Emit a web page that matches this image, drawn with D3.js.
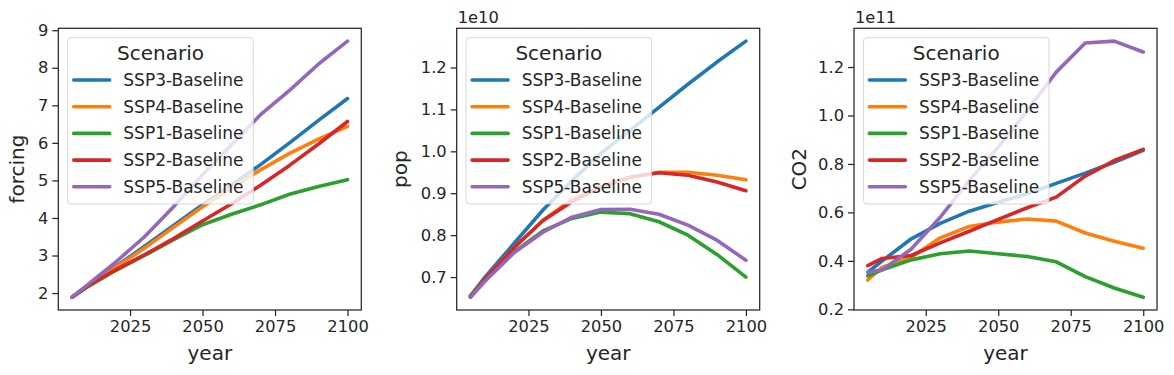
<!DOCTYPE html>
<html>
<head>
<meta charset="utf-8">
<script src="https://cdn.jsdelivr.net/npm/d3@7"></script>
<style>
  body { margin: 0; background: #fff; }
  text { font-family: "DejaVu Sans", sans-serif; fill: #262626; }
</style>
</head>
<body>
<div id="chart"></div>
<script>
// years of the model runs
const years = [2005, 2010, 2020, 2030, 2040, 2050, 2060, 2070, 2080, 2090, 2100];
const scenarios = ["SSP3-Baseline", "SSP4-Baseline", "SSP1-Baseline", "SSP2-Baseline", "SSP5-Baseline"];
const colors = ["#1f77b4", "#ff7f0e", "#2ca02c", "#d62728", "#9467bd"];

// forcing (W/m2), one array per scenario, same order as scenarios
const forcingSSP3 = [1.89, 2.18, 2.70, 3.25, 3.80, 4.35, 4.88, 5.42, 6.00, 6.60, 7.18];
const forcingSSP4 = [1.89, 2.18, 2.68, 3.20, 3.75, 4.30, 4.80, 5.28, 5.72, 6.10, 6.44];
const forcingSSP1 = [1.89, 2.15, 2.60, 3.00, 3.42, 3.82, 4.10, 4.35, 4.63, 4.84, 5.02];
const forcingSSP2 = [1.89, 2.17, 2.62, 3.02, 3.45, 3.92, 4.38, 4.87, 5.40, 5.97, 6.57];
const forcingSSP5 = [1.89, 2.20, 2.82, 3.50, 4.30, 5.15, 5.95, 6.75, 7.40, 8.10, 8.71];

// population
const popSSP3 = [6.55e9, 7.00e9, 7.80e9, 8.60e9, 9.30e9, 9.95e9, 10.50e9, 11.05e9, 11.60e9, 12.13e9, 12.63e9];
const popSSP4 = [6.55e9, 6.95e9, 7.70e9, 8.35e9, 8.85e9, 9.15e9, 9.38e9, 9.50e9, 9.50e9, 9.43e9, 9.32e9];
const popSSP1 = [6.55e9, 6.95e9, 7.60e9, 8.10e9, 8.40e9, 8.55e9, 8.51e9, 8.32e9, 8.00e9, 7.54e9, 7.00e9];
const popSSP2 = [6.52e9, 6.95e9, 7.70e9, 8.35e9, 8.80e9, 9.15e9, 9.38e9, 9.49e9, 9.43e9, 9.27e9, 9.06e9];
const popSSP5 = [6.52e9, 6.90e9, 7.58e9, 8.07e9, 8.43e9, 8.61e9, 8.62e9, 8.50e9, 8.24e9, 7.88e9, 7.40e9];

// CO2 emissions
const co2SSP3 = [0.353e11, 0.40e11, 0.491e11, 0.555e11, 0.605e11, 0.642e11, 0.677e11, 0.720e11, 0.762e11, 0.807e11, 0.856e11];
const co2SSP4 = [0.321e11, 0.374e11, 0.415e11, 0.495e11, 0.542e11, 0.560e11, 0.573e11, 0.564e11, 0.515e11, 0.481e11, 0.452e11];
const co2SSP1 = [0.338e11, 0.363e11, 0.404e11, 0.429e11, 0.441e11, 0.429e11, 0.418e11, 0.396e11, 0.335e11, 0.288e11, 0.250e11];
const co2SSP2 = [0.380e11, 0.410e11, 0.422e11, 0.474e11, 0.522e11, 0.571e11, 0.619e11, 0.663e11, 0.750e11, 0.814e11, 0.860e11];
const co2SSP5 = [0.353e11, 0.362e11, 0.449e11, 0.580e11, 0.732e11, 0.869e11, 1.020e11, 1.179e11, 1.299e11, 1.307e11, 1.262e11];

const xTicks = [2025, 2050, 2075, 2100];
const forcingTicks = [2, 3, 4, 5, 6, 7, 8, 9];
const popTicks = [0.7e10, 0.8e10, 0.9e10, 1.0e10, 1.1e10, 1.2e10];
const co2Ticks = [0.2e11, 0.4e11, 0.6e11, 0.8e11, 1.0e11, 1.2e11];

const panels = [
    {label: "forcing", series: [forcingSSP3, forcingSSP4, forcingSSP1, forcingSSP2, forcingSSP5],
     ticks: forcingTicks, scale: 1, offset: null, fmt: d3.format("d"), labX: -34.5},
    {label: "pop", series: [popSSP3, popSSP4, popSSP1, popSSP2, popSSP5],
     ticks: popTicks, scale: 1e10, offset: "1e10", fmt: d3.format(".1f"), labX: -49.5},
    {label: "CO2", series: [co2SSP3, co2SSP4, co2SSP1, co2SSP2, co2SSP5],
     ticks: co2Ticks, scale: 1e11, offset: "1e11", fmt: d3.format(".1f"), labX: -48}
];

const W = 1174, H = 375;
const lefts = [58.3, 456.7, 854];
const plotTop = 28.3, plotW = 303, plotH = 281.7;
const axisColor = "#262626";

const svg = d3.select("#chart").append("svg")
    .attr("width", W).attr("height", H);

// matplotlib style 5% margins
function padded(ext) {
    const m = (ext[1] - ext[0]) * 0.05;
    return [ext[0] - m, ext[1] + m];
}

panels.forEach(function(p, i) {
    const g = svg.append("g").attr("transform", "translate(" + lefts[i] + "," + plotTop + ")");

    const x = d3.scaleLinear().domain(padded(d3.extent(years))).range([0, plotW]);
    const all = p.series.flat();
    const y = d3.scaleLinear().domain(padded(d3.extent(all))).range([plotH, 0]);

    // lines
    const line = d3.line()
        .x(function(d, j) { return x(years[j]); })
        .y(function(d) { return y(d); });

    p.series.forEach(function(s, k) {
        g.append("path")
            .datum(s)
            .attr("fill", "none")
            .attr("stroke", colors[k])
            .attr("stroke-width", 3.6)
            .attr("stroke-linecap", "round")
            .attr("stroke-linejoin", "round")
            .attr("d", line);
    });

    // x axis
    const xa = g.append("g")
        .attr("transform", "translate(0," + plotH + ")")
        .call(d3.axisBottom(x).tickValues(xTicks).tickFormat(d3.format("d")).tickSize(6).tickPadding(4).tickSizeOuter(0));
    // y axis
    const ya = g.append("g")
        .call(d3.axisLeft(y).tickValues(p.ticks).tickFormat(function(d) { return p.fmt(d / p.scale); })
            .tickSize(6).tickPadding(4).tickSizeOuter(0));

    [xa, ya].forEach(function(a) {
        a.select(".domain").remove();
        a.selectAll("line").attr("stroke", axisColor).attr("stroke-width", 1.25);
        a.selectAll("text").attr("fill", axisColor).style("font-size", "16.3px")
            .style("font-family", "DejaVu Sans, sans-serif");
    });

    // frame
    g.append("rect")
        .attr("width", plotW).attr("height", plotH)
        .attr("fill", "none").attr("stroke", axisColor).attr("stroke-width", 1.25);

    // axis labels
    g.append("text")
        .attr("x", plotW / 2).attr("y", plotH + 50)
        .attr("text-anchor", "middle")
        .style("font-size", "20px")
        .text("year");

    g.append("text")
        .attr("transform", "translate(" + p.labX + "," + (plotH / 2) + ") rotate(-90)")
        .attr("text-anchor", "middle")
        .style("font-size", "20px")
        .text(p.label);

    if (p.offset) {
        g.append("text")
            .attr("x", 1).attr("y", -5)
            .style("font-size", "16.3px")
            .text(p.offset);
    }

    // legend
    const lg = g.append("g").attr("transform", "translate(9.4,9.4)");
    lg.append("rect")
        .attr("width", 185.6).attr("height", 166.3)
        .attr("rx", 3.5)
        .attr("fill", "#fff").attr("fill-opacity", 0.8)
        .attr("stroke", "#cccccc").attr("stroke-opacity", 0.8).attr("stroke-width", 1);
    lg.append("text")
        .attr("x", 92.8).attr("y", 22.3)
        .attr("text-anchor", "middle")
        .style("font-size", "20px")
        .text("Scenario");
    scenarios.forEach(function(name, k) {
        const yy = 42.3 + k * 26.7;
        lg.append("line")
            .attr("x1", 6).attr("x2", 42)
            .attr("y1", yy).attr("y2", yy)
            .attr("stroke", colors[k]).attr("stroke-width", 3.6)
            .attr("stroke-linecap", "round");
        lg.append("text")
            .attr("x", 55.6).attr("y", yy)
            .attr("dy", "0.35em")
            .style("font-size", "17px")
            .text(name);
    });
});
</script>
</body>
</html>
